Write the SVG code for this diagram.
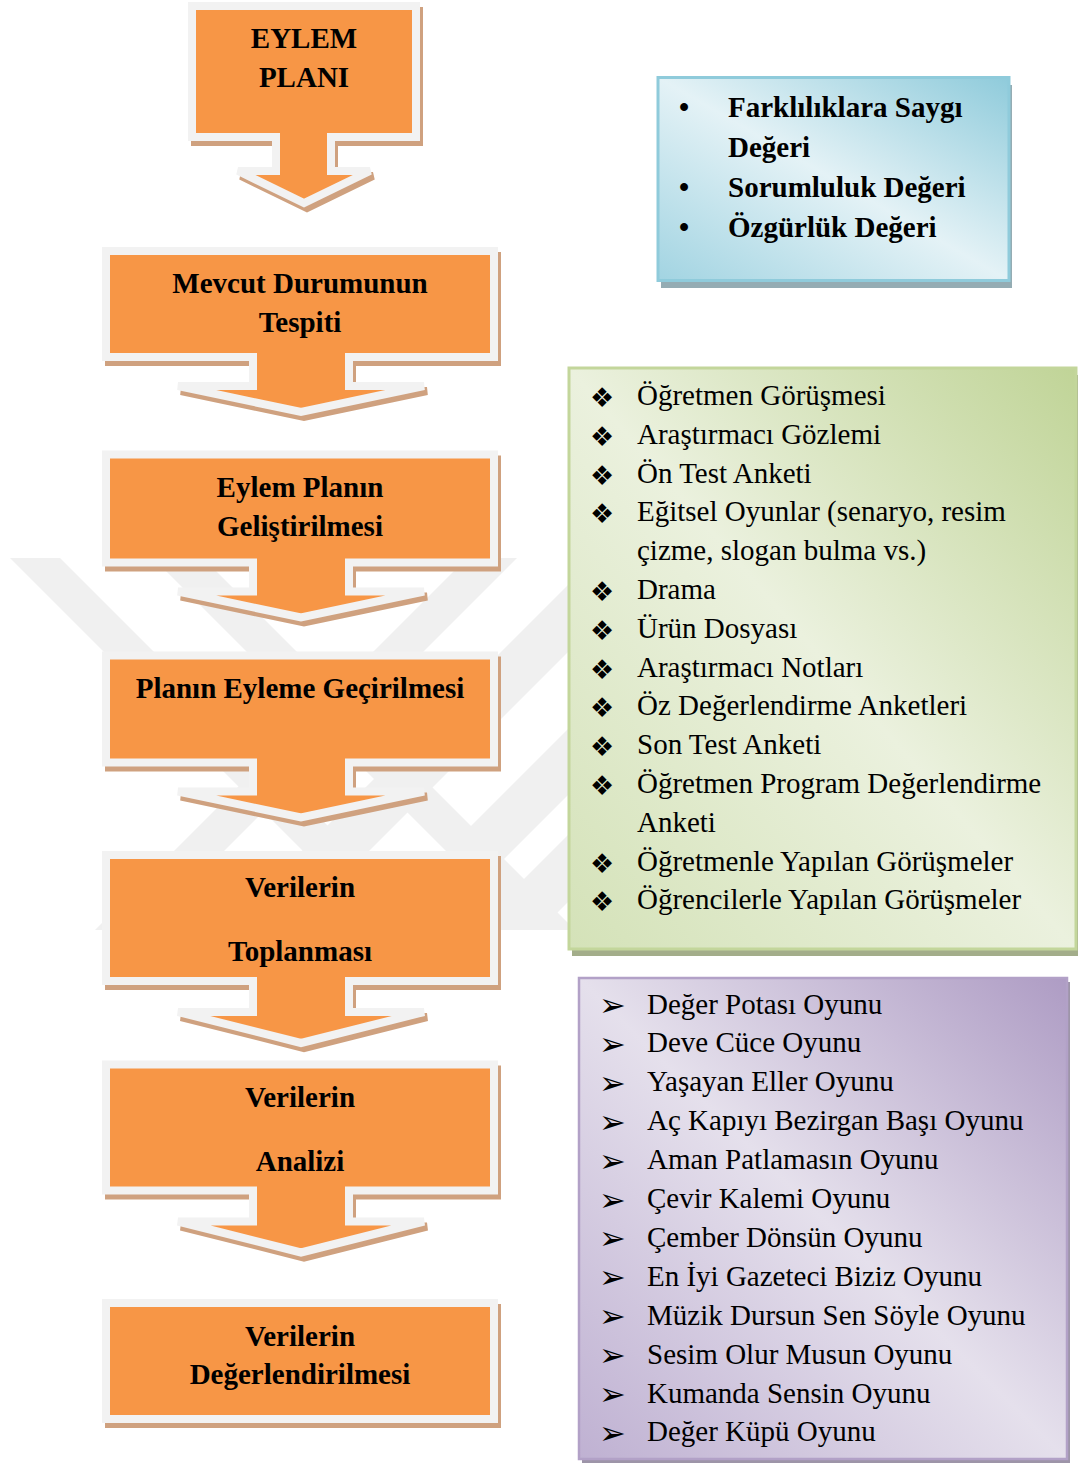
<svg xmlns="http://www.w3.org/2000/svg" xmlns:xlink="http://www.w3.org/1999/xlink" width="1078" height="1464" viewBox="0 0 1078 1464">
<style>
.sh{fill:#cfa17f;stroke:#cfa17f;stroke-width:8;stroke-linejoin:miter}
.co{fill:#f79646;stroke:#f2f2f2;stroke-width:8;stroke-linejoin:miter}
.t{font-family:"Liberation Serif","Times New Roman",serif;font-size:29px;font-weight:bold;text-anchor:middle;fill:#000}
.tb{font-family:"Liberation Serif","Times New Roman",serif;font-size:29px;font-weight:bold;fill:#000}
.li{font-family:"Liberation Serif","Times New Roman",serif;font-size:29px;fill:#000}
.d{font-family:"DejaVu Sans",sans-serif;font-size:27px;fill:#000}
.a{font-family:"DejaVu Sans",sans-serif;font-size:32px;fill:#000}
.wm{fill:#f0f0f0}
</style>
<defs>
<linearGradient id="gb" x1="1" y1="0" x2="0" y2="1">
<stop offset="0" stop-color="#8fcbdb"/><stop offset="0.5" stop-color="#e4f2f6"/><stop offset="1" stop-color="#a2d4e2"/>
</linearGradient>
<linearGradient id="gg" x1="1" y1="0" x2="0" y2="1">
<stop offset="0" stop-color="#c0d497"/><stop offset="0.5" stop-color="#ebf1de"/><stop offset="1" stop-color="#d4e2b8"/>
</linearGradient>
<linearGradient id="gp" x1="1" y1="0" x2="0" y2="1">
<stop offset="0" stop-color="#ae9cc4"/><stop offset="0.5" stop-color="#e5e0ec"/><stop offset="1" stop-color="#bfb1d2"/>
</linearGradient>
<clipPath id="wc"><rect x="0" y="558" width="600" height="372"/></clipPath>
<path id="p1" d="M192,6H416V137H331V171H370L304,203L238,171H276V137H192Z"/>
<path id="p2" d="M106,251H494V357H349V386H424L301,412L178,386H253V357H106Z"/>
<path id="p3" d="M106,454.5H494V562.5H349V591.5H424L301,617.5L178,591.5H253V562.5H106Z"/>
<path id="p4" d="M106,655.5H494V762.5H349V791.5H424L301,817.5L178,791.5H253V762.5H106Z"/>
<path id="p5" d="M106,855H494V981H349V1012H424L301,1043L178,1012H253V981H106Z"/>
<path id="p6" d="M106,1064.5H494V1190.5H349V1221.5H424L301,1252.5L178,1221.5H253V1190.5H106Z"/>
<path id="p7" d="M106,1303H494V1419H106Z"/>
</defs>
<rect width="1078" height="1464" fill="#ffffff"/>
<g id="watermark" clip-path="url(#wc)">
<polygon class="wm" points="10,558 60,558 432,930 382,930"/>
<polygon class="wm" points="153,558 203,558 575,930 525,930"/>
<polygon class="wm" points="467,558 517,558 145,930 95,930"/>
<polygon class="wm" points="595,558 662,558 290,930 223,930"/>
<polygon class="wm" points="739,558 805,558 433,930 367,930"/>
<polygon class="wm" points="845,558 912,558 540,930 473,930"/>
</g>
<g id="connectors"></g>
<g id="n1"><use xlink:href="#p1" class="sh" transform="translate(3,5)"/><use xlink:href="#p1" class="co"/>
<text class="t" x="304" y="48">EYLEM</text><text class="t" x="304" y="87">PLANI</text></g>
<g id="n2"><use xlink:href="#p2" class="sh" transform="translate(3,5)"/><use xlink:href="#p2" class="co"/>
<text class="t" x="300" y="292.5">Mevcut Durumunun</text><text class="t" x="300" y="331.5">Tespiti</text></g>
<g id="n3"><use xlink:href="#p3" class="sh" transform="translate(3,5)"/><use xlink:href="#p3" class="co"/>
<text class="t" x="300" y="496.5">Eylem Planın</text><text class="t" x="300" y="535.5">Geliştirilmesi</text></g>
<g id="n4"><use xlink:href="#p4" class="sh" transform="translate(3,5)"/><use xlink:href="#p4" class="co"/>
<text class="t" x="300" y="697.5">Planın Eyleme Geçirilmesi</text></g>
<g id="n5"><use xlink:href="#p5" class="sh" transform="translate(3,5)"/><use xlink:href="#p5" class="co"/>
<text class="t" x="300" y="897">Verilerin</text><text class="t" x="300" y="961">Toplanması</text></g>
<g id="n6"><use xlink:href="#p6" class="sh" transform="translate(3,5)"/><use xlink:href="#p6" class="co"/>
<text class="t" x="300" y="1106.5">Verilerin</text><text class="t" x="300" y="1170.5">Analizi</text></g>
<g id="n7"><use xlink:href="#p7" class="sh" transform="translate(3,5)"/><use xlink:href="#p7" class="co"/>
<text class="t" x="300" y="1345.5">Verilerin</text><text class="t" x="300" y="1384">Değerlendirilmesi</text></g>
<g id="values">
<rect x="661" y="85" width="351" height="203" fill="#94acb3"/>
<rect x="658" y="77.5" width="351" height="203" fill="url(#gb)" stroke="#8fcbdb" stroke-width="3"/>
<text class="tb" x="679" y="117">•</text><text class="tb" x="728" y="117">Farklılıklara Saygı</text>
<text class="tb" x="728" y="157">Değeri</text>
<text class="tb" x="679" y="197">•</text><text class="tb" x="728" y="197">Sorumluluk Değeri</text>
<text class="tb" x="679" y="237">•</text><text class="tb" x="728" y="237">Özgürlük Değeri</text>
</g>
<g id="tools">
<rect x="572" y="375" width="507" height="581" fill="#a3ad8a"/>
<rect x="569" y="368" width="507" height="581" fill="url(#gg)" stroke="#c3d69b" stroke-width="3"/>
<text class="d" x="590" y="407">❖</text><text class="li" x="637" y="405">Öğretmen Görüşmesi</text>
<text class="d" x="590" y="445.8">❖</text><text class="li" x="637" y="443.8">Araştırmacı Gözlemi</text>
<text class="d" x="590" y="484.6">❖</text><text class="li" x="637" y="482.6">Ön Test Anketi</text>
<text class="d" x="590" y="523.4">❖</text><text class="li" x="637" y="521.4">Eğitsel Oyunlar (senaryo, resim</text>
<text class="li" x="637" y="560.2">çizme, slogan bulma vs.)</text>
<text class="d" x="590" y="601">❖</text><text class="li" x="637" y="599">Drama</text>
<text class="d" x="590" y="639.8">❖</text><text class="li" x="637" y="637.8">Ürün Dosyası</text>
<text class="d" x="590" y="678.6">❖</text><text class="li" x="637" y="676.6">Araştırmacı Notları</text>
<text class="d" x="590" y="717.4">❖</text><text class="li" x="637" y="715.4">Öz Değerlendirme Anketleri</text>
<text class="d" x="590" y="756.2">❖</text><text class="li" x="637" y="754.2">Son Test Anketi</text>
<text class="d" x="590" y="795">❖</text><text class="li" x="637" y="793">Öğretmen Program Değerlendirme</text>
<text class="li" x="637" y="831.8">Anketi</text>
<text class="d" x="590" y="872.6">❖</text><text class="li" x="637" y="870.6">Öğretmenle Yapılan Görüşmeler</text>
<text class="d" x="590" y="911.4">❖</text><text class="li" x="637" y="909.4">Öğrencilerle Yapılan Görüşmeler</text>
</g>
<g id="games">
<rect x="582" y="982" width="488" height="481" fill="#9d95a8"/>
<rect x="579" y="978" width="488" height="481" fill="url(#gp)" stroke="#b2a1c7" stroke-width="2.5"/>
<text class="a" x="599" y="1016">➢</text><text class="li" x="647" y="1013.5">Değer Potası Oyunu</text>
<text class="a" x="599" y="1054.9">➢</text><text class="li" x="647" y="1052.4">Deve Cüce Oyunu</text>
<text class="a" x="599" y="1093.8">➢</text><text class="li" x="647" y="1091.3">Yaşayan Eller Oyunu</text>
<text class="a" x="599" y="1132.7">➢</text><text class="li" x="647" y="1130.2">Aç Kapıyı Bezirgan Başı Oyunu</text>
<text class="a" x="599" y="1171.6">➢</text><text class="li" x="647" y="1169.1">Aman Patlamasın Oyunu</text>
<text class="a" x="599" y="1210.5">➢</text><text class="li" x="647" y="1208">Çevir Kalemi Oyunu</text>
<text class="a" x="599" y="1249.4">➢</text><text class="li" x="647" y="1246.9">Çember Dönsün Oyunu</text>
<text class="a" x="599" y="1288.3">➢</text><text class="li" x="647" y="1285.8">En İyi Gazeteci Biziz Oyunu</text>
<text class="a" x="599" y="1327.2">➢</text><text class="li" x="647" y="1324.7">Müzik Dursun Sen Söyle Oyunu</text>
<text class="a" x="599" y="1366.1">➢</text><text class="li" x="647" y="1363.6">Sesim Olur Musun Oyunu</text>
<text class="a" x="599" y="1405">➢</text><text class="li" x="647" y="1402.5">Kumanda Sensin Oyunu</text>
<text class="a" x="599" y="1443.9">➢</text><text class="li" x="647" y="1441.4">Değer Küpü Oyunu</text>
</g>
</svg>
